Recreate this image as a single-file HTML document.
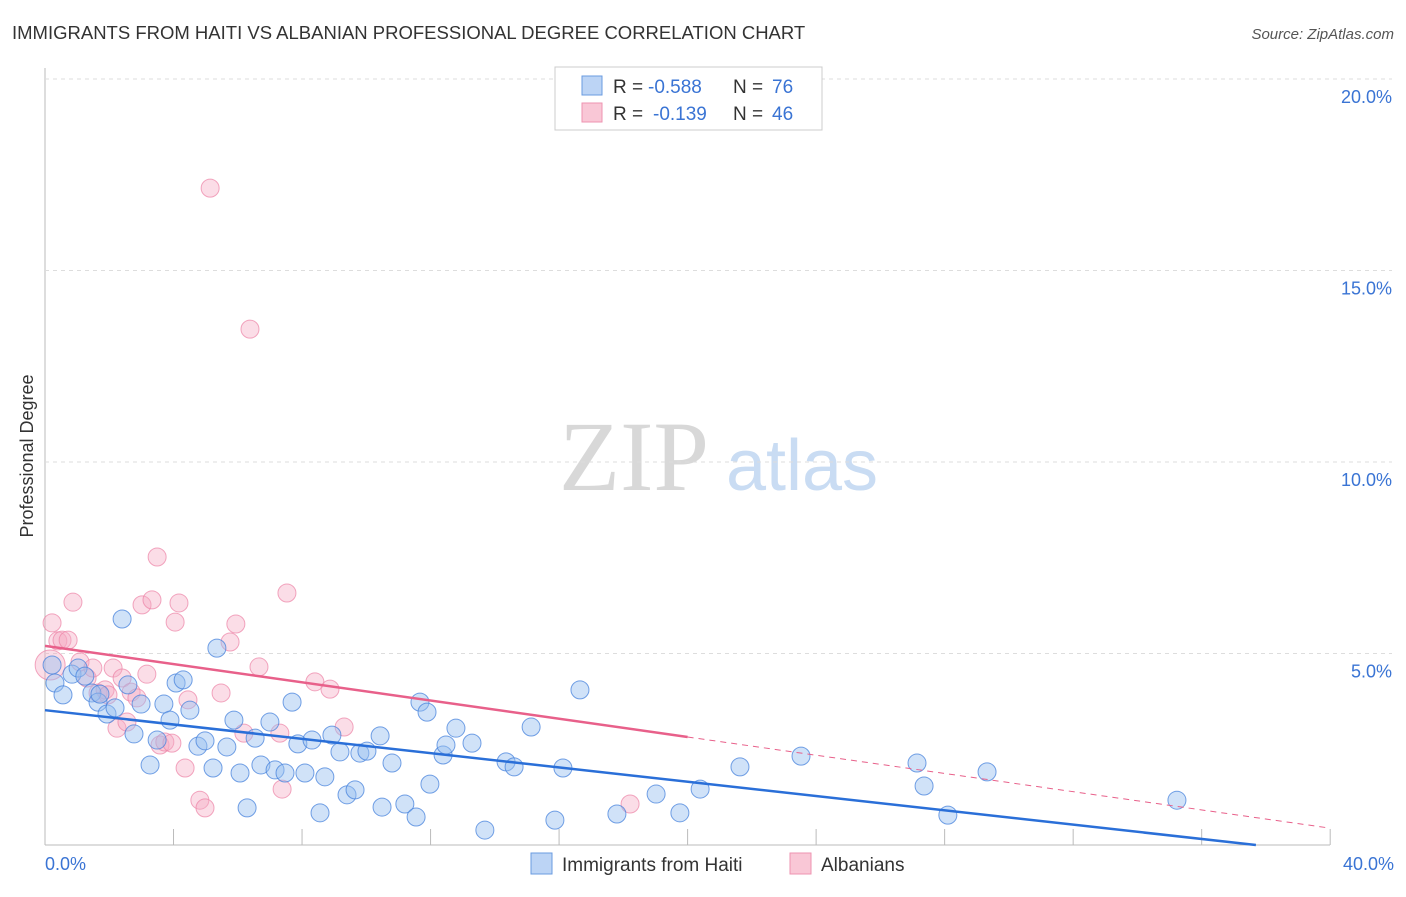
<!DOCTYPE html>
<html><head><meta charset="utf-8"><style>
body{margin:0;background:#fff;font-family:"Liberation Sans",sans-serif;}
</style></head><body>
<svg id="chart" width="1406" height="892" xmlns="http://www.w3.org/2000/svg" font-family="Liberation Sans, sans-serif">
<text x="12" y="39" font-size="18.5" fill="#333">IMMIGRANTS FROM HAITI VS ALBANIAN PROFESSIONAL DEGREE CORRELATION CHART</text>
<text x="1394" y="39" font-size="15" fill="#555" font-style="italic" text-anchor="end">Source: ZipAtlas.com</text>
<text x="0" y="0" transform="translate(33,456) rotate(-90)" font-size="18" fill="#333" text-anchor="middle">Professional Degree</text>
<g>
<text x="634" y="490" font-size="100" fill="#d8d8d8" style="font-family:'Liberation Serif',serif" text-anchor="middle">ZIP</text>
<text x="802" y="490" font-size="72" fill="#c9dcf3" text-anchor="middle">atlas</text>
</g>
<g id="grid"></g>
<g id="ticks"></g>
<g id="pts"></g>
<g id="trend"></g>
<g>
<rect x="555" y="67" width="267" height="63" fill="#fff" stroke="#ccc"/>
<rect x="582" y="76" width="20" height="19" fill="#bcd4f5" stroke="#6a9be0"/>
<rect x="582" y="103" width="20" height="19" fill="#f9c7d6" stroke="#ee93b0"/>
<text x="613" y="93" font-size="19" fill="#333">R =</text>
<text x="648" y="93" font-size="19" fill="#3a74d4">-0.588</text>
<text x="733" y="93" font-size="19" fill="#333">N =</text>
<text x="772" y="93" font-size="19" fill="#3a74d4">76</text>
<text x="613" y="120" font-size="19" fill="#333">R =</text>
<text x="653" y="120" font-size="19" fill="#3a74d4">-0.139</text>
<text x="733" y="120" font-size="19" fill="#333">N =</text>
<text x="772" y="120" font-size="19" fill="#3a74d4">46</text>
</g>
<g>
<rect x="531" y="853" width="21" height="21" fill="#bcd4f5" stroke="#6a9be0"/>
<text x="562" y="871" font-size="19" fill="#333">Immigrants from Haiti</text>
<rect x="790" y="853" width="21" height="21" fill="#f9c7d6" stroke="#ee93b0"/>
<text x="821" y="871" font-size="19" fill="#333">Albanians</text>
</g>
</svg>
<script>
const blueX=[0.22,0.31,0.56,0.84,1.03,1.24,1.46,1.65,1.71,1.93,2.18,2.40,2.58,2.77,2.99,3.27,3.49,3.70,3.89,4.08,4.30,4.51,4.76,4.98,5.23,5.35,5.66,5.88,6.07,6.29,6.54,6.72,7.00,7.16,7.47,7.69,7.87,8.09,8.31,8.56,8.71,8.93,9.18,9.40,9.65,9.80,10.02,10.43,10.49,10.80,11.20,11.55,11.67,11.89,11.98,12.39,12.48,12.79,13.29,13.69,14.35,14.60,15.13,15.87,16.12,16.65,17.80,19.02,19.76,20.39,21.63,23.53,27.14,27.36,28.10,29.32,35.23];
const blueY=[4.70,4.23,3.92,4.46,4.62,4.41,3.97,3.73,3.94,3.42,3.58,5.90,4.18,2.90,3.68,2.09,2.74,3.68,3.26,4.23,4.31,3.52,2.58,2.72,2.01,5.14,2.56,3.26,1.88,0.97,2.79,2.09,3.21,1.96,1.88,3.73,2.64,1.88,2.74,0.84,1.78,2.87,2.43,1.31,1.44,2.40,2.45,2.85,0.99,2.14,1.07,0.73,3.73,3.47,1.59,2.35,2.61,3.05,2.66,0.39,2.17,2.04,3.08,0.65,2.01,4.05,0.81,1.33,0.84,1.46,2.04,2.32,2.14,1.54,0.78,1.91,1.17];
const pinkX=[0.16,0.22,0.40,0.53,0.72,0.87,1.09,1.31,1.49,1.65,1.87,1.96,2.12,2.24,2.40,2.55,2.68,2.86,3.02,3.17,3.33,3.49,3.58,3.73,3.95,4.05,4.17,4.36,4.45,4.82,4.98,5.14,5.48,5.76,5.94,6.19,6.38,6.66,7.31,7.38,7.53,8.40,8.87,9.31,18.21];
const pinkY=[4.70,5.80,5.33,5.35,5.35,6.34,4.78,4.36,4.62,3.97,4.05,3.92,4.62,3.05,4.36,3.21,3.99,3.84,6.27,4.46,6.40,7.52,2.61,2.69,2.66,5.82,6.32,2.01,3.79,1.17,0.97,17.15,3.97,5.30,5.77,2.92,13.47,4.65,2.92,1.46,6.58,4.26,4.07,3.08,1.07];
const blueTrend=[3.52,-0.0934];
const pinkTrend=[5.2,-0.119];
const yTicks=[5,10,15,20];
const xTicks=[4,8,12,16,20,24,28,32,36,40];
const NS="http://www.w3.org/2000/svg";
const X=v=>45+v*32.13, Y=v=>845-v*38.3;
function mk(t,a,p){const e=document.createElementNS(NS,t);for(const k in a)e.setAttribute(k,a[k]);document.getElementById(p).appendChild(e);return e;}
let ax=mk('line',{x1:45,y1:68,x2:45,y2:845,stroke:'#bbb'},'grid');


let bx=mk('line',{x1:45,y1:845,x2:1330,y2:845,stroke:'#bbb'},'grid');


yTicks.forEach(v=>{
 const g=mk('line',{x1:45,y1:Y(v),x2:1392,y2:Y(v),stroke:'#ddd','stroke-dasharray':'4,4'},'grid');
 
 
 const t=mk('text',{x:1392,y:Y(v)+24,'font-size':18,fill:'#3a74d4','text-anchor':'end'},'ticks');
 t.textContent=v.toFixed(1)+'%';
 
 
});
xTicks.forEach(v=>{
 const l=mk('line',{x1:X(v),y1:829,x2:X(v),y2:845,stroke:'#bbb'},'ticks');
 
 
});
[[0,'0.0%',45,'start'],[40,'40.0%',1394,'end']].forEach(d=>{
 const t=mk('text',{x:d[2],y:870,'font-size':18,fill:'#3a74d4','text-anchor':d[3]},'ticks');
 t.textContent=d[1];
 
 
});
pinkX.forEach((x,i)=>{
 const c=mk('circle',{cx:X(x),cy:Y(pinkY[i]),r:i==0?15:9,fill:'rgba(246,170,195,0.4)',stroke:'rgba(236,130,165,0.7)','stroke-width':1},'pts');
 
 
});
blueX.forEach((x,i)=>{
 const c=mk('circle',{cx:X(x),cy:Y(blueY[i]),r:9,fill:'rgba(150,190,240,0.45)',stroke:'rgba(70,130,220,0.75)','stroke-width':1},'pts');
 
 
});
const bEnd=-blueTrend[0]/blueTrend[1];
const bl=mk('line',{x1:X(0),y1:Y(blueTrend[0]),x2:X(bEnd),y2:Y(0),stroke:'#2a6fd8','stroke-width':2.5},'trend');


const pl=mk('line',{x1:X(0),y1:Y(pinkTrend[0]),x2:X(20),y2:Y(pinkTrend[0]+pinkTrend[1]*20),stroke:'#e8608a','stroke-width':2.5},'trend');


const pd=mk('line',{x1:X(20),y1:Y(pinkTrend[0]+pinkTrend[1]*20),x2:X(40),y2:Y(pinkTrend[0]+pinkTrend[1]*40),stroke:'#e8608a','stroke-width':1,'stroke-dasharray':'6,5'},'trend');


</script>
</body></html>
